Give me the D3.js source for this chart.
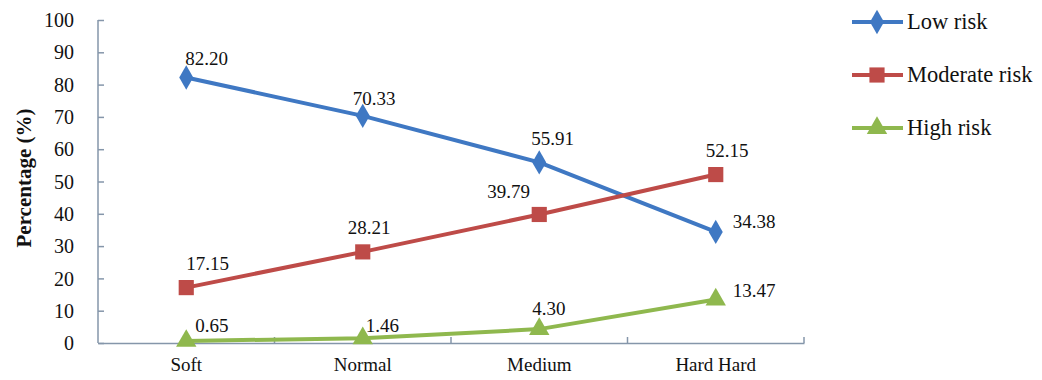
<!DOCTYPE html>
<html><head><meta charset="utf-8">
<script src="https://cdn.jsdelivr.net/npm/d3@7"></script>
<style>body{margin:0;background:#fff}svg{display:block}
svg text{font-family:"Liberation Serif","Times New Roman","DejaVu Serif",serif !important;}</style>
</head><body>
<svg id="c" width="1042" height="380"></svg>
<script>
const categories = ["Soft", "Normal", "Medium", "Hard Hard"];
const seriesNames = ["Low risk", "Moderate risk", "High risk"];
const lowRisk = [82.20, 70.33, 55.91, 34.38];
const moderateRisk = [17.15, 28.21, 39.79, 52.15];
const highRisk = [0.65, 1.46, 4.30, 13.47];
const yTicks = [0, 10, 20, 30, 40, 50, 60, 70, 80, 90, 100];

// style: colours, marker shapes, label offsets [dx, dy]
const colors = ["#3f78c3", "#be4b48", "#8fb84e"];
const symbols = [d3.symbolDiamond, d3.symbolSquare, d3.symbolTriangle];
const symSizes = [170, 230, 180];
const labelOffsets = [
  [[-1,-12],[-10,-11],[-8,-17],[17,-4]],
  [[0,-18],[-15,-18],[-52,-16],[-10,-18]],
  [[9,-9],[3,-6],[-7,-14],[17,-2]]
];
const seriesData = [lowRisk, moderateRisk, highRisk];

const svg = d3.select("#c");
const mLeft = 98, mRight = 804, mTop = 20, mBottom = 343;
const x = d3.scaleBand().domain(categories).range([mLeft, mRight]);
const y = d3.scaleLinear().domain([0, 100]).range([mBottom, mTop]);
const axisColor = "#8596aa";

// Y axis
const ya = svg.append("g").attr("transform", `translate(${mLeft},0)`)
  .call(d3.axisLeft(y).tickValues(yTicks).tickSize(-6).tickPadding(24).tickFormat(d3.format("d")));
ya.select(".domain").attr("stroke", axisColor).attr("stroke-width", 1.5).attr("d", `M0,${mTop}V${mBottom}`);
ya.selectAll(".tick line").attr("stroke", axisColor).attr("stroke-width", 1.5);
ya.selectAll(".tick text").attr("font-size", 20).attr("fill", "#111").attr("dy", "0.33em");

// X axis
const xa = svg.append("g").attr("transform", `translate(0,${mBottom})`)
  .call(d3.axisBottom(x).tickSize(0).tickPadding(15));
xa.select(".domain").attr("stroke", axisColor).attr("stroke-width", 1.5);
xa.selectAll(".tick text").attr("font-size", 19).attr("fill", "#111");
// category boundary tick marks (inside)
svg.append("g").selectAll("line").data(d3.range(1, categories.length + 1)).join("line")
  .attr("x1", i => x.range()[0] + i * x.step()).attr("x2", i => x.range()[0] + i * x.step())
  .attr("y1", mBottom).attr("y2", mBottom - 6)
  .attr("stroke", axisColor).attr("stroke-width", 1.5);

// Y title
svg.append("text").attr("transform", `translate(31,178) rotate(-90)`)
  .attr("text-anchor", "middle").attr("font-weight", "bold")
  .attr("font-size", 21).attr("fill", "#111").text("Percentage (%)");

const cx = c => x(c) + x.bandwidth() / 2;
const line = d3.line().x((d, i) => cx(categories[i])).y(d => y(d));

seriesData.forEach((vals, s) => {
  const g = svg.append("g");
  g.append("path").datum(vals).attr("d", line).attr("fill", "none")
    .attr("stroke", colors[s]).attr("stroke-width", 4).attr("stroke-linejoin", "round");
  g.selectAll("path.m").data(vals).join("path").attr("class", "m")
    .attr("transform", (d, i) => `translate(${cx(categories[i])},${y(d)})`)
    .attr("d", d3.symbol().type(symbols[s]).size(symSizes[s])).attr("fill", colors[s]);
  g.selectAll("text").data(vals).join("text")
    .attr("x", (d, i) => cx(categories[i]) + labelOffsets[s][i][0])
    .attr("y", (d, i) => y(d) + labelOffsets[s][i][1])
    .attr("font-size", 19).attr("fill", "#111")
    .text(d => d.toFixed(2));
});

// Legend
const legY = [22, 75, 128];
seriesNames.forEach((n, s) => {
  const g = svg.append("g").attr("transform", `translate(0,${legY[s]})`);
  g.append("line").attr("x1", 852).attr("x2", 903).attr("stroke", colors[s]).attr("stroke-width", 4);
  g.append("path").attr("transform", "translate(877,0)")
    .attr("d", d3.symbol().type(symbols[s]).size(symSizes[s])).attr("fill", colors[s]);
  g.append("text").attr("x", 907).attr("y", 7).attr("font-size", 22.5)
    .attr("fill", "#111").text(n);
});
</script>
</body></html>
